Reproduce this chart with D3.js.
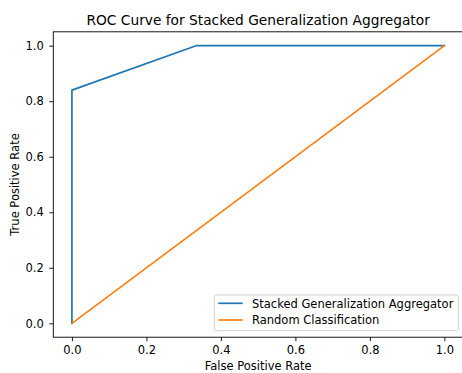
<!DOCTYPE html>
<html>
<head>
<meta charset="utf-8">
<script src="https://cdn.jsdelivr.net/npm/d3@7"></script>
<style>
    body { margin: 0; background: #fff; }
</style>
</head>
<body>
<div id="chart"></div>
<script>
// ROC data
const modelFpr = [0, 0, 1 / 3, 1]
const modelTpr = [0, 0.84, 1, 1]
const randomFpr = [0, 1]
const randomTpr = [0, 1]
const ticks = [0, 0.2, 0.4, 0.6, 0.8, 1.0]
const seriesNames = ['Stacked Generalization Aggregator', 'Random Classification']
const colors = ['#1f77b4', '#ff7f0e']

const font = 'DejaVu Sans'
const width = 462
const height = 373
const plot = { left: 53.3, right: 463, top: 31.8, bottom: 337.2 }

const x = d3.scaleLinear().domain([-0.05, 1.05]).range([plot.left, plot.right])
const y = d3.scaleLinear().domain([-0.05, 1.05]).range([plot.bottom, plot.top])

const svg = d3.select('#chart').append('svg')
    .attr('width', width)
    .attr('height', height)
    .attr('font-family', font)

const series = [
    { name: seriesNames[0], pts: modelFpr.map((d, i) => [d, modelTpr[i]]) },
    { name: seriesNames[1], pts: randomFpr.map((d, i) => [d, randomTpr[i]]) }
]

const line = d3.line().x(d => x(d[0])).y(d => y(d[1]))

svg.selectAll('path.series')
    .data(series)
    .enter()
    .append('path')
    .attr('class', 'series')
    .attr('d', d => line(d.pts))
    .attr('fill', 'none')
    .attr('stroke', (d, i) => colors[i])
    .attr('stroke-width', 1.7)
    .attr('stroke-linejoin', 'round')
    .attr('stroke-linecap', 'square')

// axes
const xAxis = svg.append('g')
    .attr('transform', `translate(0,${plot.bottom})`)
    .call(d3.axisBottom(x).tickValues(ticks).tickFormat(d3.format('.1f')).tickSize(4).tickPadding(5))
const yAxis = svg.append('g')
    .attr('transform', `translate(${plot.left},0)`)
    .call(d3.axisLeft(y).tickValues(ticks).tickFormat(d3.format('.1f')).tickSize(4).tickPadding(5.5))

for (const ax of [xAxis, yAxis]) {
    ax.attr('font-family', font).attr('font-size', 11.5)
    ax.select('.domain').remove()
    ax.selectAll('text').attr('fill', '#000')
    ax.selectAll('line').attr('stroke', '#000').attr('stroke-width', 0.9)
}

// spines (right one falls off the picture)
svg.append('rect')
    .attr('x', plot.left)
    .attr('y', plot.top)
    .attr('width', plot.right - plot.left)
    .attr('height', plot.bottom - plot.top)
    .attr('fill', 'none')
    .attr('stroke', '#000')
    .attr('stroke-width', 0.9)

svg.append('text')
    .attr('x', (plot.left + plot.right) / 2)
    .attr('y', 25)
    .attr('text-anchor', 'middle')
    .attr('font-size', 13.75)
    .text('ROC Curve for Stacked Generalization Aggregator')

svg.append('text')
    .attr('x', (plot.left + plot.right) / 2)
    .attr('y', 370)
    .attr('text-anchor', 'middle')
    .attr('font-size', 11.5)
    .text('False Positive Rate')

svg.append('text')
    .attr('transform', `translate(19.3,${(plot.top + plot.bottom) / 2}) rotate(-90)`)
    .attr('text-anchor', 'middle')
    .attr('font-size', 11.5)
    .text('True Positive Rate')

// legend
const legend = svg.append('g').attr('transform', 'translate(214.3,295)')
legend.append('rect')
    .attr('width', 244)
    .attr('height', 35.7)
    .attr('rx', 2)
    .attr('fill', '#fff')
    .attr('fill-opacity', 0.8)
    .attr('stroke', '#ccc')
    .attr('stroke-width', 0.9)

const item = legend.selectAll('g.item')
    .data(series)
    .enter()
    .append('g')
    .attr('class', 'item')
    .attr('transform', (d, i) => `translate(0,${8.3 + i * 16.7})`)
item.append('line')
    .attr('x1', 4)
    .attr('x2', 28.4)
    .attr('stroke', (d, i) => colors[i])
    .attr('stroke-width', 1.7)
item.append('text')
    .attr('x', 37.7)
    .attr('y', 4.4)
    .attr('font-size', 11.5)
    .text(d => d.name)
</script>
</body>
</html>
